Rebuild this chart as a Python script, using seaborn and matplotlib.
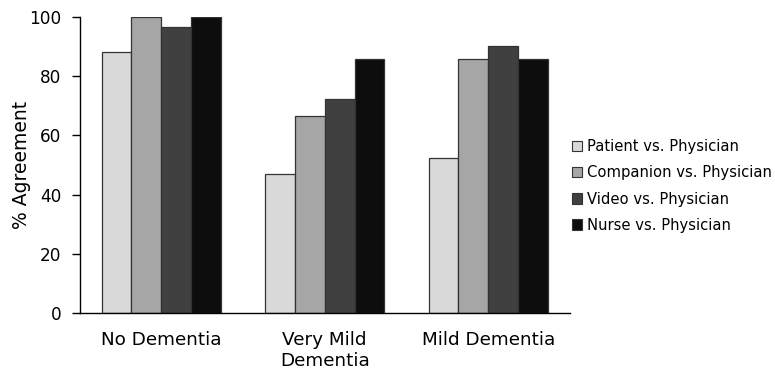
import matplotlib
matplotlib.use("Agg")
import matplotlib.pyplot as plt
import seaborn as sns
import pandas as pd
from matplotlib.patches import Patch

categories = ["No Dementia", "Very Mild\nDementia", "Mild Dementia"]
series = ["Patient vs. Physician", "Companion vs. Physician", "Video vs. Physician", "Nurse vs. Physician"]
patient = [88.0, 47.1, 52.4]
companion = [100.0, 66.5, 85.6]
video = [96.4, 72.2, 90.0]
nurse = [100.0, 85.6, 85.6]
colors = ["#d9d9d9", "#a6a6a6", "#404040", "#0d0d0d"]

rows = []
for name, vals in zip(series, [patient, companion, video, nurse]):
    for c, v in zip(categories, vals):
        rows.append({"Category": c, "Series": name, "Value": v})
df = pd.DataFrame(rows)

sns.set_style("white")
plt.rcParams['font.family'] = ['DejaVu Sans']
plt.rcParams['text.color'] = 'black'
plt.rcParams['axes.labelcolor'] = 'black'
plt.rcParams['xtick.color'] = 'black'
plt.rcParams['ytick.color'] = 'black'

fig = plt.figure(figsize=(7.75, 3.84), dpi=100)
ax = fig.add_axes([79.5/775, 1 - 313.3/384, 490.5/775, (313.3 - 16.7)/384])

sns.barplot(data=df, x="Category", y="Value", hue="Series", palette=colors,
            width=0.73, gap=0, edgecolor="#333333", linewidth=0.9,
            saturation=1, ax=ax, legend=False)

ax.set_xlim(-0.5, 2.5)
ax.set_ylim(0, 100)
ax.set_yticks([0, 20, 40, 60, 80, 100])
ax.tick_params(axis="y", labelsize=12.2, length=5.8, width=1, direction="out", left=True, pad=7)
ax.tick_params(axis="x", labelsize=13.2, length=0, pad=13)
ax.set_xlabel("")
ax.set_ylabel("% Agreement", fontsize=13.5, labelpad=-1)
for s in ["top", "right"]:
    ax.spines[s].set_visible(False)
for s in ["left", "bottom"]:
    ax.spines[s].set_color("black")
    ax.spines[s].set_linewidth(1)

handles = [Patch(facecolor=c, edgecolor="#333333", linewidth=0.8) for c in colors]
fig.legend(handles, series, loc="center left", bbox_to_anchor=(566/775, 1 - 186/384),
           frameon=False, fontsize=10.6, handlelength=0.7, handleheight=0.7,
           handletextpad=0.3, labelspacing=0.75, borderaxespad=0)

fig.savefig("out.png", dpi=100)
